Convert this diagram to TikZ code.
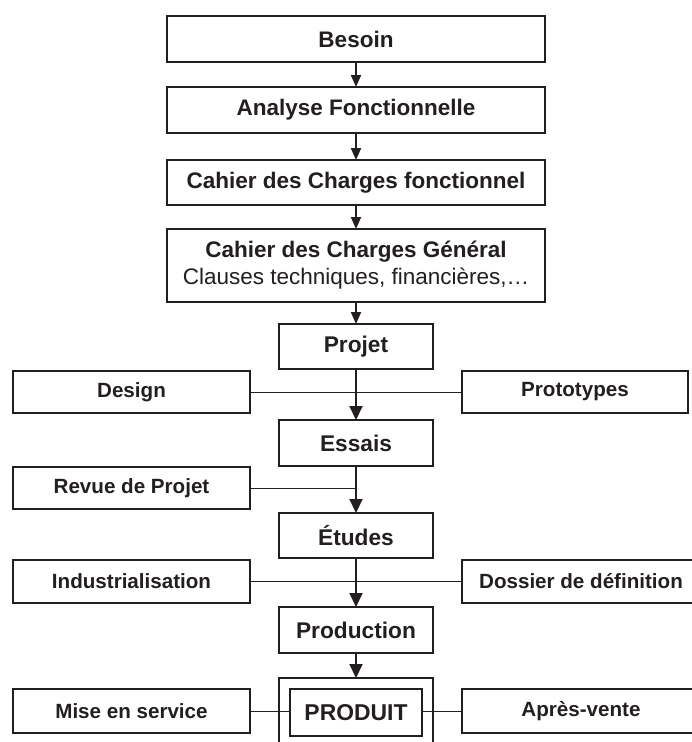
\documentclass[tikz,border=0pt]{standalone}
\usepackage{fontspec}
\setmainfont{Liberation Sans}
\usetikzlibrary{arrows.meta}
\definecolor{ink}{RGB}{35,31,32}
\begin{document}
\begin{tikzpicture}[x=1pt,y=-1pt,
  every node/.style={inner sep=0pt,outer sep=0pt,text=ink},
  topbox/.style={draw=ink,line width=2pt,minimum width=378pt,align=center,
     font=\fontsize{22.5}{27}\selectfont\bfseries},
  midbox/.style={draw=ink,line width=2pt,minimum width=154pt,
     font=\fontsize{22.7}{27}\selectfont\bfseries},
  sidebox/.style={draw=ink,line width=1.6pt,
     font=\fontsize{20.6}{24}\selectfont\bfseries},
  smallarr/.style={draw=ink,line width=2pt,-{Triangle[width=10pt,length=12pt]}},
  bigarr/.style={draw=ink,line width=2pt,-{Triangle[width=13pt,length=14pt]}},
  link/.style={draw=ink,line width=1pt}]
\useasboundingbox (0,0) rectangle (692,742);
\clip (0,0) rectangle (692,742);
\fill[white] (0,0) rectangle (692,742);
% main column
\node[topbox,minimum height=46pt] (besoin) at (356,39) {Besoin};
\node[topbox,minimum height=46pt] (analyse) at (356,110) {Analyse Fonctionnelle};
\node[topbox,minimum height=45pt] (cdcf) at (356,182.5) {Cahier des Charges fonctionnel};
\node[topbox,minimum height=73pt] (cdcg) at (356,265.5) {Cahier des Charges Général\\{\mdseries Clauses techniques, financières,…}};
\node[midbox,minimum height=45pt] (projet) at (356,346.5) {Projet};
\node[midbox,minimum height=46pt] (essais) at (356,443) {Essais};
\node[midbox,minimum height=45pt] (etudes) at (356,535.5) {Études};
\node[midbox,minimum height=46pt] (production) at (356,630) {Production};
\node[draw=ink,line width=2pt,minimum width=154pt,minimum height=84pt] (outer) at (356,720) {};
\node[draw=ink,line width=2.4pt,minimum width=132pt,minimum height=47pt,
      font=\fontsize{22.9}{27}\selectfont\bfseries] (produit) at (356,712.5) {PRODUIT};
% side boxes
\node[sidebox,minimum width=237pt,minimum height=42pt] (design) at (131.5,392) {Design};
\node[sidebox,minimum width=226pt,minimum height=42pt] (proto) at (575,392) {Prototypes};
\node[sidebox,minimum width=237pt,minimum height=42pt] (revue) at (131.5,488) {Revue de Projet};
\node[sidebox,minimum width=237pt,minimum height=43pt] (indus) at (131.5,581.5) {Industrialisation};
\node[sidebox,minimum width=238pt,minimum height=43pt] (dossier) at (581,581.5) {Dossier de définition};
\node[sidebox,minimum width=237pt,minimum height=44pt] (mise) at (131.5,711) {Mise en service};
\node[sidebox,minimum width=238pt,minimum height=44pt] (apres) at (581,711) {Après-vente};
% side links
\draw[link] (design.east) -- (proto.west);
\draw[link] (revue.east) -- (revue.east -| essais.south);
\draw[link] (indus.east) -- (dossier.west);
\draw[link] (mise.east) -- (mise.east -| produit.west);
\draw[link] (apres.west -| produit.east) -- (apres.west);
% arrows
\draw[smallarr] (besoin.south) -- (analyse.north);
\draw[smallarr] (analyse.south) -- (cdcf.north);
\draw[smallarr] (cdcf.south) -- (cdcg.north);
\draw[smallarr] (cdcg.south) -- (projet.north);
\draw[bigarr] (projet.south) -- (essais.north);
\draw[bigarr] (essais.south) -- (etudes.north);
\draw[bigarr] (etudes.south) -- (production.north);
\draw[bigarr] (production.south) -- (outer.north);
\end{tikzpicture}
\end{document}
